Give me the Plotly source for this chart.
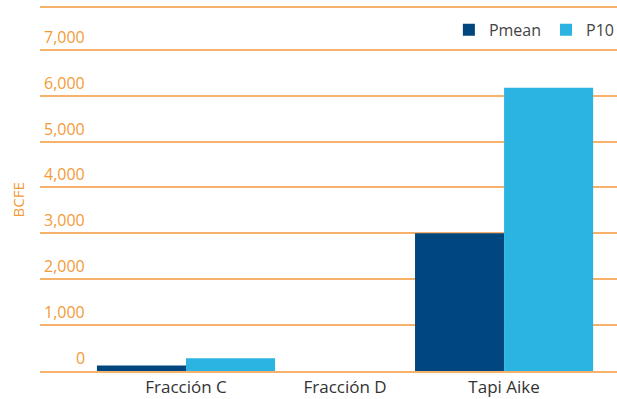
import plotly.graph_objects as go

categories = ["Fracción C", "Fracción D", "Tapi Aike"]
pmean = [120, 0, 3000]
p10 = [280, 0, 6170]
y_ticks = [0, 1000, 2000, 3000, 4000, 5000, 6000, 7000]
y_tick_labels = ["0", "1,000", "2,000", "3,000", "4,000", "5,000", "6,000", "7,000"]

ORANGE = "#f39b38"
GRID = "#f6b26b"
NAVY = "#00477f"
CYAN = "#2bb3e1"
FONT = "Open Sans"

xpos = list(range(len(categories)))
bw = 0.56

fig = go.Figure()
fig.add_trace(go.Bar(x=xpos, y=pmean, name="Pmean", marker_color=NAVY,
                     width=bw, offset=-bw, marker_line_width=0))
fig.add_trace(go.Bar(x=xpos, y=p10, name="P10", marker_color=CYAN,
                     width=bw, offset=0, marker_line_width=0))

annotations = []
for v, t in zip(y_ticks, y_tick_labels):
    annotations.append(dict(x=0.0815, xref="paper", y=v, yref="y", text=t,
                            xanchor="right", yanchor="bottom", yshift=0,
                            showarrow=False, font=dict(color=ORANGE, size=16, family=FONT)))
annotations.append(dict(x=-0.038, xref="paper", y=0.47, yref="paper", text="BCFE",
                        textangle=-90, showarrow=False, xanchor="center", yanchor="middle",
                        font=dict(color=ORANGE, size=15, family=FONT)))

fig.update_layout(
    width=617, height=399,
    margin=dict(l=40, r=0, t=8, b=28, autoexpand=False),
    plot_bgcolor="white", paper_bgcolor="white",
    barmode="overlay",
    showlegend=True,
    legend=dict(orientation="h", x=1.005, xanchor="right", y=0.94, yanchor="middle",
                font=dict(size=16, color="#444444", family=FONT),
                itemwidth=30, traceorder="normal", bgcolor="rgba(0,0,0,0)"),
    annotations=annotations,
    xaxis=dict(range=[-0.918, 2.71], tickmode="array", tickvals=xpos, ticktext=categories,
               showgrid=False, showline=True, linecolor=GRID, linewidth=2, mirror=True,
               ticks="", ticklabelstandoff=0,
               tickfont=dict(size=17, color="#333333", family=FONT), zeroline=False),
    yaxis=dict(range=[0, 7910], tickmode="array", tickvals=y_ticks, showticklabels=False,
               showgrid=True, gridcolor=GRID, gridwidth=2, zeroline=False, showline=False),
    font=dict(family=FONT),
)

fig.write_html("out.html")
